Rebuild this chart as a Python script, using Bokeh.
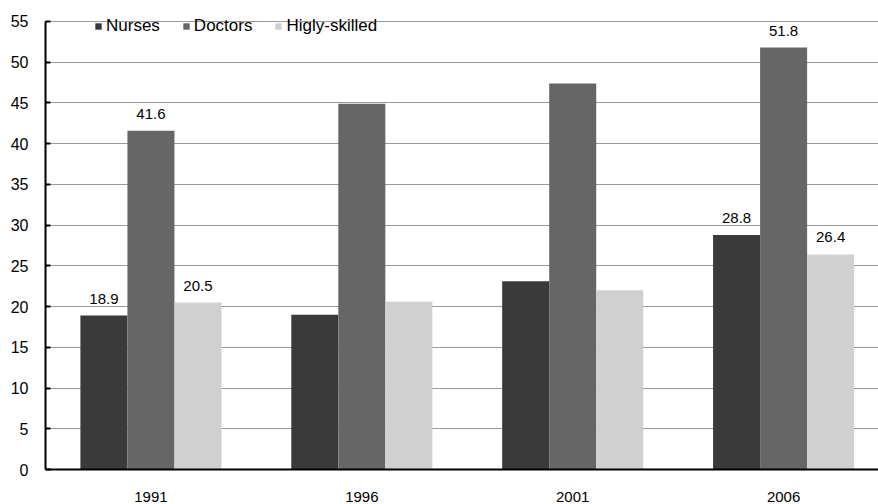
from bokeh.plotting import figure
from bokeh.models import Range1d, FixedTicker, Legend, LegendItem, ColumnDataSource
from bokeh.core.properties import value
from bokeh.embed import file_html
from bokeh.resources import INLINE

# ---- data ----
years = ["1991", "1996", "2001", "2006"]
nurses = [18.9, 19.0, 23.1, 28.8]
doctors = [41.6, 44.9, 47.4, 51.8]
skilled = [20.5, 20.6, 22.0, 26.4]
series_names = ["Nurses", "Doctors", "Higly-skilled"]
series_colors = ["#3a3a3a", "#666666", "#d0d0d0"]
labelled_years = ["1991", "2006"]
y_ticks = [0, 5, 10, 15, 20, 25, 30, 35, 40, 45, 50, 55]

FONT = "Liberation Sans"
pos = [i + 1 for i in range(len(years))]
bw = 0.223

p = figure(width=878, height=504, output_backend="svg", toolbar_location=None,
           x_range=Range1d(0.5, 4.45), y_range=Range1d(0, 55.98),
           min_border_left=45, min_border_right=0, min_border_top=13, min_border_bottom=35)
p.outline_line_color = None
p.background_fill_color = "white"
p.border_fill_color = "white"

renderers = []
all_series = [nurses, doctors, skilled]
for k, (vals, name, col) in enumerate(zip(all_series, series_names, series_colors)):
    xs = [x + (k - 1) * bw for x in pos]
    src = ColumnDataSource(dict(x=xs, top=vals))
    r = p.vbar(x="x", top="top", width=bw, bottom=0, source=src,
               fill_color=col, line_color=None)
    renderers.append(r)
    lx, ly, lt = [], [], []
    for yr, x, v in zip(years, xs, vals):
        if yr in labelled_years:
            lx.append(x); ly.append(v); lt.append(f"{v:.1f}")
    p.text(x=lx, y=ly, text=lt, text_align="center", text_baseline="middle",
           y_offset=-17, text_font=value(FONT), text_font_size="15px", text_color="black")

# grid
p.xgrid.grid_line_color = None
p.ygrid.grid_line_color = "#9a9a9a"
p.ygrid.grid_line_width = 1
p.ygrid.ticker = FixedTicker(ticks=y_ticks)

# y axis
p.yaxis.ticker = FixedTicker(ticks=y_ticks)
p.yaxis.bounds = (0, 55)
p.yaxis.axis_line_color = "black"
p.yaxis.axis_line_width = 2
p.yaxis.major_tick_in = 5
p.yaxis.major_tick_out = 0
p.yaxis.major_tick_line_color = "black"
p.yaxis.major_tick_line_width = 2
p.yaxis.minor_tick_line_color = None
p.yaxis.major_label_standoff = 17
p.yaxis.major_label_text_font = FONT
p.yaxis.major_label_text_font_size = "16px"
p.yaxis.major_label_text_color = "black"

# x axis
p.xaxis.ticker = FixedTicker(ticks=pos)
p.xaxis.major_label_overrides = {x: y for x, y in zip(pos, years)}
p.xaxis.axis_line_color = "black"
p.xaxis.axis_line_width = 2
p.xaxis.major_tick_line_color = None
p.xaxis.minor_tick_line_color = None
p.xaxis.major_tick_in = 0
p.xaxis.major_tick_out = 0
p.xaxis.major_label_standoff = 22
p.xaxis.major_label_text_font = FONT
p.xaxis.major_label_text_font_size = "15px"
p.xaxis.major_label_text_color = "black"

legend = Legend(items=[LegendItem(label=n, renderers=[r]) for n, r in zip(series_names, renderers)],
                location=(49, 433), orientation="horizontal",
                glyph_width=8, glyph_height=8, label_height=16, label_standoff=4,
                spacing=22, padding=0, margin=0,
                background_fill_alpha=0, border_line_alpha=0,
                label_text_font=FONT, label_text_font_size="17px", label_text_color="black")
p.add_layout(legend)

open("out.html", "w").write(file_html(p, INLINE))
